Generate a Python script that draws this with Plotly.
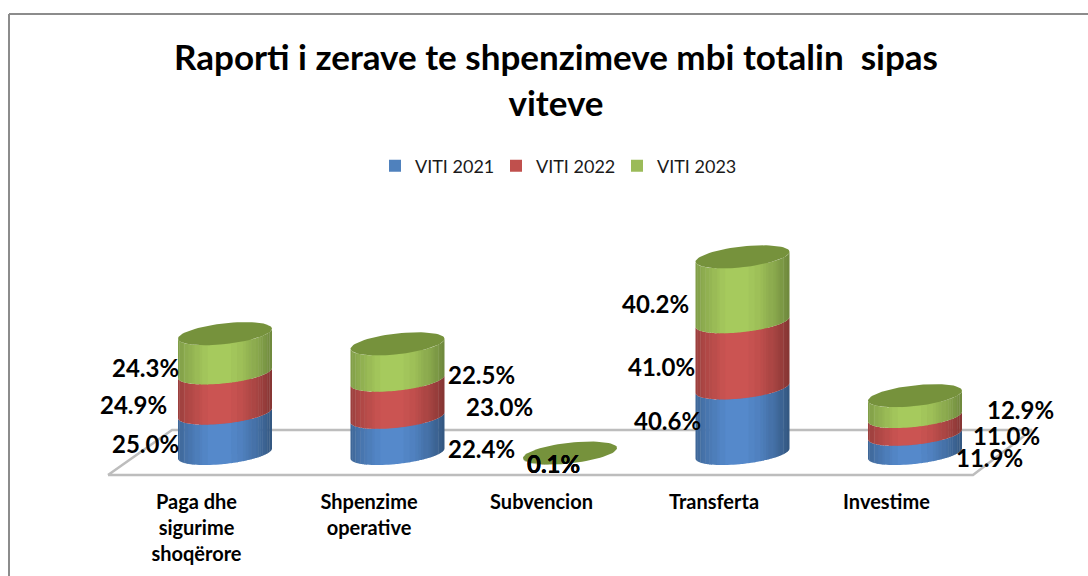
import math
import plotly.graph_objects as go

categories = ["Paga dhe<br>sigurime<br>shoqërore", "Shpenzime<br>operative", "Subvencion", "Transferta", "Investime"]
series_names = ["VITI 2021", "VITI 2022", "VITI 2023"]
viti_2021 = [25.0, 22.4, 0.1, 40.6, 11.9]
viti_2022 = [24.9, 23.0, 0.1, 41.0, 11.0]
viti_2023 = [24.3, 22.5, 0.1, 40.2, 12.9]
title_text = "Raporti i zerave te shpenzimeve mbi totalin  sipas<br>viteve"

# label offsets in pixels from each segment's middle (manual placement, as in the source)
label_dx = [[-80, 84, -17, -75, 74], [-92, 102, -17, -81, 91], [-80, 84, -17, -87, 105]]
label_dy = [[-10, -13, -10, 0, -14], [-11.5, -8, -10, -12, -10], [-14, -12, -10, -14, -3]]

PX_X, PX_Y = 172.5, 1.615
X0_PX, Y0_PX = 196.5, 453.5
L, R, T, B = 100, 1040, 200, 488
SHIFT = 28.5 / PX_X
A, BB, S = 47 / PX_X, 10.4 / PX_Y, 5 / PX_Y
FONT = "Lato"
base_rgb = ["#4f81bd", "#c0504d", "#9bbb59"]
centre_rgb = [(85, 137, 203), (203, 84, 82), (166, 202, 93)]
edge_rgb = [(52, 88, 130), (135, 54, 52), (112, 138, 62)]
TOP_COLOR = "#76923c"
N_SLICES, N_SHADES = 48, 14

def x_data(px):
    return (px - X0_PX) / PX_X

def y_data(px):
    return (Y0_PX - px) / PX_Y

def arc(theta):
    # point on the rim of a tilted ellipse; theta in (pi, 2pi) is the front half
    return A * math.cos(theta), BB * math.sin(theta) + S * math.cos(theta)

series = [viti_2021, viti_2022, viti_2023]
fig = go.Figure()

for s_i, vals in enumerate(series):
    fig.add_trace(go.Bar(x=[i + SHIFT for i in range(5)], y=vals, name=series_names[s_i],
                         width=0.3, marker=dict(color=base_rgb[s_i], line=dict(width=0)),
                         hoverinfo="skip"))

# floor of the 3D plot
floor_x = [x_data(108), x_data(973), x_data(1032), x_data(172), x_data(108)]
floor_y = [y_data(475), y_data(475), y_data(430), y_data(430), y_data(475)]
fig.add_trace(go.Scatter(x=floor_x, y=floor_y, mode="lines", showlegend=False, hoverinfo="skip",
                         line=dict(color="#bdbdbd", width=2.5)))

bases = [0.0] * 5
for s_i, vals in enumerate(series):
    groups = {k: ([], []) for k in range(N_SHADES)}
    for i, v in enumerate(vals):
        cx = i + SHIFT
        for j in range(N_SLICES):
            t0 = math.pi + math.pi * j / N_SLICES
            t1 = min(2 * math.pi, math.pi + math.pi * (j + 1.25) / N_SLICES)
            d0x, d0y = arc(t0)
            d1x, d1y = arc(t1)
            f = (d0x + d1x) / 2 / A / 2 + 0.5
            m = min(1.0, abs(f - 0.45) / 0.55)
            k = min(N_SHADES - 1, int(m ** 1.8 * N_SHADES))
            xs, ys = groups[k]
            b = bases[i]
            xs += [cx + d0x, cx + d1x, cx + d1x, cx + d0x, cx + d0x, None]
            ys += [b + d0y, b + d1y, b + v + d1y, b + v + d0y, b + d0y, None]
    for k, (xs, ys) in groups.items():
        w = k / (N_SHADES - 1)
        c = tuple(round(centre_rgb[s_i][n] * (1 - w) + edge_rgb[s_i][n] * w) for n in range(3))
        col = "rgb(%d,%d,%d)" % c
        fig.add_trace(go.Scatter(x=xs, y=ys, mode="lines", fill="toself", fillcolor=col,
                                 line=dict(width=0, color=col), showlegend=False, hoverinfo="skip"))
    bases = [b + v for b, v in zip(bases, vals)]

# top caps
for i, top in enumerate(bases):
    cap = [arc(2 * math.pi * n / 72) for n in range(73)]
    fig.add_trace(go.Scatter(x=[i + SHIFT + c[0] for c in cap], y=[top + c[1] for c in cap],
                             mode="lines", fill="toself", fillcolor=TOP_COLOR,
                             line=dict(width=0, color=TOP_COLOR), showlegend=False, hoverinfo="skip"))

annotations = []
running = [0.0] * 5
for s_i, vals in enumerate(series):
    for i, v in enumerate(vals):
        annotations.append(dict(x=i + SHIFT, y=running[i] + v / 2, xref="x", yref="y",
                                text="%.1f%%" % v, showarrow=False,
                                xshift=label_dx[s_i][i], yshift=label_dy[s_i][i],
                                font=dict(family=FONT, size=24, color="#000000", weight="bold")))
    running = [r + v for r, v in zip(running, vals)]

fig.update_layout(
    width=1088, height=576, autosize=False,
    margin=dict(l=L, r=1088 - R, t=T, b=576 - B, autoexpand=False),
    paper_bgcolor="white", plot_bgcolor="rgba(0,0,0,0)",
    barmode="stack",
    font=dict(family=FONT, color="#000000"),
    title=dict(text=title_text, x=556 / 1088, xanchor="center", y=1 - 70 / 576, yanchor="top",
               font=dict(family=FONT, size=35, color="#000000", weight="bold")),
    legend=dict(orientation="h", xref="container", yref="container", x=375 / 1088, xanchor="left",
                y=1 - 166 / 576, yanchor="middle", font=dict(family=FONT, size=18, color="#1a1a1a"),
                itemwidth=30, entrywidth=76, traceorder="normal", itemclick=False, itemdoubleclick=False,
                bgcolor="rgba(0,0,0,0)"),
    xaxis=dict(range=[x_data(L), x_data(R)], tickmode="array", tickvals=list(range(5)), ticktext=categories,
               showgrid=False, zeroline=False, showline=False, ticks="",
               tickfont=dict(family=FONT, size=20, color="#000000", weight="bold"), ticklabelstandoff=0),
    yaxis=dict(range=[y_data(B), y_data(T)], visible=False),
    annotations=annotations,
)
# chart frame: only the left and top edges lie inside the picture
fig.add_shape(type="line", xref="paper", yref="paper",
              x0=(9 - L) / (R - L), x1=(1100 - L) / (R - L),
              y0=(B - 14) / (B - T), y1=(B - 14) / (B - T), line=dict(color="#8c8c8c", width=2))
fig.add_shape(type="line", xref="paper", yref="paper",
              x0=(9 - L) / (R - L), x1=(9 - L) / (R - L),
              y0=(B - 590) / (B - T), y1=(B - 14) / (B - T), line=dict(color="#8c8c8c", width=2))

fig.write_html("out.html", config=dict(displayModeBar=False),
               post_script="document.body.style.margin='0';document.documentElement.style.overflow='hidden';")
